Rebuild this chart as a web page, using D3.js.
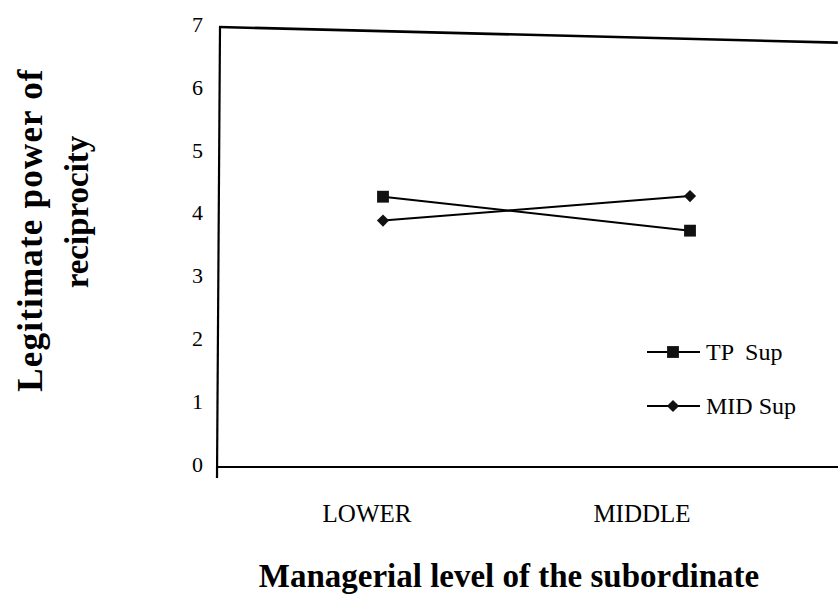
<!DOCTYPE html>
<html>
<head>
<meta charset="utf-8" />
<script src="https://cdn.jsdelivr.net/npm/d3@7"></script>
<style>
  body { margin: 0; background: #fff; }
  svg text { font-family: "Liberation Serif", "DejaVu Serif", serif; fill: #000; }
</style>
</head>
<body>
<div id="chart"></div>
<script>
// data
var levels = ["LOWER", "MIDDLE"];
var tpSup = [4.30, 3.76];
var midSup = [3.92, 4.31];
var yTicks = [0, 1, 2, 3, 4, 5, 6, 7];

var width = 838, height = 598;

var svg = d3.select("#chart").append("svg")
  .attr("width", width)
  .attr("height", height)
  .style("font-family", "'Liberation Serif', serif");

// scales
var y = d3.scaleLinear().domain([0, 7]).range([467, 27]);
var x = d3.scalePoint().domain(levels).range([383, 690]);
var xLabel = d3.scalePoint().domain(levels).range([367, 642]);

// frame: left axis, bottom axis, top border
svg.append("line")
  .attr("x1", 220).attr("x2", 217)
  .attr("y1", y(7)).attr("y2", y(0) + 11)
  .attr("stroke", "#000").attr("stroke-width", 2.2);
svg.append("line")
  .attr("x1", 217).attr("x2", width)
  .attr("y1", y(0)).attr("y2", y(0))
  .attr("stroke", "#000").attr("stroke-width", 2.2);
svg.append("line")
  .attr("x1", 219).attr("x2", width)
  .attr("y1", y(7)).attr("y2", y(7))
  .attr("transform", "rotate(1.45," + 219 + "," + y(7) + ")")
  .attr("stroke", "#000").attr("stroke-width", 2.6);

// y tick labels
svg.selectAll(".ytick")
  .data(yTicks).enter()
  .append("text")
  .attr("class", "ytick")
  .attr("x", 203)
  .attr("y", function (d) { return y(d); })
  .attr("dy", "0.22em")
  .attr("text-anchor", "end")
  .style("font-size", "22px")
  .text(function (d) { return d; });

// x category labels
svg.selectAll(".xtick")
  .data(levels).enter()
  .append("text")
  .attr("class", "xtick")
  .attr("x", function (d) { return xLabel(d); })
  .attr("y", 522)
  .attr("text-anchor", "middle")
  .style("font-size", "25px")
  .text(function (d) { return d; });

// axis titles
svg.append("text")
  .attr("x", 509).attr("y", 587)
  .attr("text-anchor", "middle")
  .style("font-size", "33px")
  .style("font-weight", "bold")
  .text("Managerial level of the subordinate");

svg.append("text")
  .attr("transform", "translate(42,230) rotate(-90)")
  .attr("text-anchor", "middle")
  .style("font-size", "35px")
  .style("font-weight", "bold")
  .style("letter-spacing", "1.2px")
  .text("Legitimate power of");
svg.append("text")
  .attr("transform", "translate(88,212) rotate(-90)")
  .attr("text-anchor", "middle")
  .style("font-size", "33px")
  .style("font-weight", "bold")
  .text("reciprocity");

// series
var series = [
  { name: "TP  Sup", values: tpSup, symbol: d3.symbolSquare, size: 140, rot: 0 },
  { name: "MID Sup", values: midSup, symbol: d3.symbolSquare, size: 74, rot: 45 }
];

var line = d3.line()
  .x(function (d, i) { return x(levels[i]); })
  .y(function (d) { return y(d); });

series.forEach(function (s) {
  svg.append("path")
    .attr("d", line(s.values))
    .attr("fill", "none")
    .attr("stroke", "#000")
    .attr("stroke-width", 2);

  svg.selectAll(null)
    .data(s.values).enter()
    .append("path")
    .attr("d", d3.symbol().type(s.symbol).size(s.size))
    .attr("transform", function (d, i) {
      return "translate(" + x(levels[i]) + "," + y(d) + ") rotate(" + s.rot + ")";
    })
    .attr("fill", "#111");
});

// legend
var legend = svg.selectAll(".legend")
  .data(series).enter()
  .append("g")
  .attr("class", "legend")
  .attr("transform", function (d, i) { return "translate(647," + (352 + i * 54) + ")"; });

legend.append("line")
  .attr("x1", 0).attr("x2", 53)
  .attr("stroke", "#000").attr("stroke-width", 2);
legend.append("path")
  .attr("d", function (d) { return d3.symbol().type(d.symbol).size(d.size)(); })
  .attr("transform", function (d) { return "translate(26,0) rotate(" + d.rot + ")"; })
  .attr("fill", "#111");
legend.append("text")
  .attr("x", 59).attr("y", 0)
  .attr("dy", "0.33em")
  .style("font-size", "24px")
  .style("white-space", "pre")
  .text(function (d) { return d.name; });
</script>
</body>
</html>
